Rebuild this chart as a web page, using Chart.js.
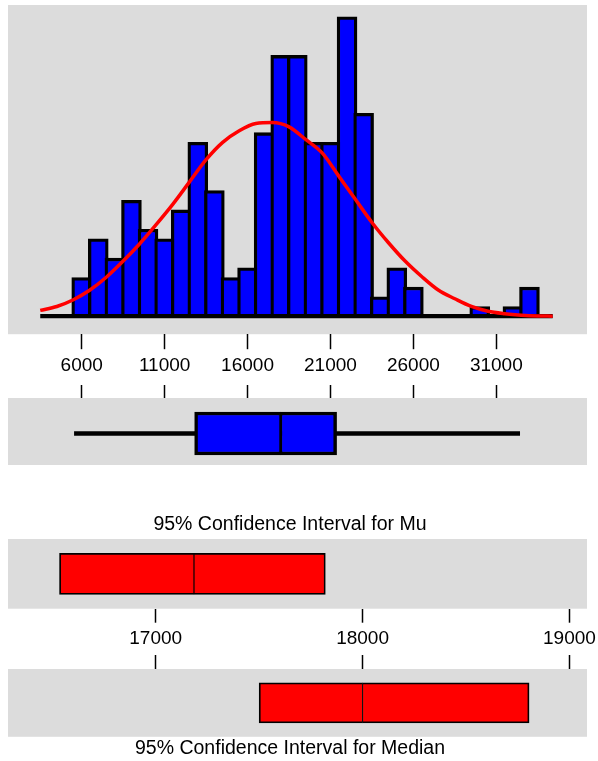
<!DOCTYPE html>
<html>
<head>
<meta charset="utf-8">
<script src="https://cdn.jsdelivr.net/npm/chart.js@4.4.1/dist/chart.umd.min.js"></script>
<style>
html,body{margin:0;padding:0;background:#fff;width:598px;height:761px;overflow:hidden;position:relative}
canvas{position:absolute;left:0}
</style>
</head>
<body>
<canvas id="hist" width="598" height="385" style="top:0px;width:598px;height:385px"></canvas>
<canvas id="box" width="598" height="80" style="top:385px;width:598px;height:80px"></canvas>
<canvas id="ciMu" width="630" height="156" style="top:500px;left:-16px;width:630px;height:156px"></canvas>
<canvas id="ciMed" width="630" height="106" style="top:655px;left:-16px;width:630px;height:106px"></canvas>
<script>
// ---------- data ----------
const binCenters = [6000,7000,8000,9000,10000,11000,12000,13000,14000,15000,16000,17000,18000,19000,20000,21000,22000,23000,24000,25000,26000,27000,28000,29000,30000,31000,32000,33000];
const binCounts  = [4,8,6,12,9,8,11,18,13,4,5,19,27,27,18,18,31,21,2,5,3,0,0,0,1,0,1,3];
const curveX = [3500,4500,5500,6500,7500,8500,9500,10500,11500,12500,13500,14500,15500,16500,17500,18500,19500,20500,21500,22500,23500,24500,25500,26500,27500,28500,29500,30500,31500,32500,33500,34400];
const curveY = [0.6,1.0,1.7,2.7,4.05,5.7,7.5,9.5,11.6,13.9,16.2,18.0,19.2,19.95,20.05,19.6,18.3,16.9,14.5,12.1,9.7,7.6,5.7,4.1,2.7,1.8,1.0,0.5,0.25,0.1,0.02,0];
const histTicks = [6000,11000,16000,21000,26000,31000];
const boxSummary = [5560,12810,18000,21370,32410]; // min, Q1, median, Q3, max
const muInterval = [16535,17185,17820];            // low, mean, high
const medianInterval = [17500,18000,18805];        // low, median, high
const ciTicks = [17000,18000,19000];
const muTitle = '95% Confidence Interval for Mu';
const medianTitle = '95% Confidence Interval for Median';

// ---------- shared styling ----------
const FONT = "'Liberation Sans', Arial, Helvetica, sans-serif";
const GRAY = '#dcdcdc';
const panelBg = {
  id: 'panelBg',
  beforeDraw(chart) {
    const {ctx, chartArea: a} = chart;
    ctx.save();
    ctx.fillStyle = GRAY;
    ctx.fillRect(a.left, a.top, a.right - a.left, a.bottom - a.top);
    ctx.restore();
  }
};
const common = {
  responsive: false,
  animation: false,
  events: [],
};
function xAxis(min, max, tickVals, position, showLabels, tickLength, padding) {
  return {
    type: 'linear', position, min, max, offset: false,
    afterBuildTicks: s => { s.ticks = tickVals.map(v => ({value: v})); },
    ticks: {display: showLabels, callback: v => String(v), color: '#000',
            font: {family: FONT, size: 19}, padding: padding, maxRotation: 0, autoSkip: false},
    grid: {display: true, drawOnChartArea: false, drawTicks: true, offset: false,
           tickLength, tickColor: '#000', tickWidth: 1.5, color: '#000'},
    border: {display: false},
    stacked: false
  };
}
// invisible spacer y-axis (15px wide) for the interval panels
function spacerY(min, max) {
  return {
    type: 'linear', position: 'left', display: true, min, max, offset: false,
    ticks: {display: false}, grid: {display: false}, border: {display: false},
    afterFit: s => { s.width = 15; }
  };
}

// ---------- histogram ----------
new Chart(document.getElementById('hist'), {
  type: 'bar',
  data: {
    datasets: [
      {type: 'line', data: curveX.map((x, i) => ({x, y: curveY[i]})), borderColor: '#ff0000',
       borderWidth: 3.5, pointRadius: 0, cubicInterpolationMode: 'monotone', order: 0},
      {type: 'line', data: [{x: curveX[0], y: 0}, {x: curveX[curveX.length - 1], y: 0}],
       borderColor: '#000', borderWidth: 4.3, pointRadius: 0, order: 1},
      {type: 'bar', data: binCenters.map((x, i) => ({x, y: binCounts[i]})),
       backgroundColor: '#0000ff', borderColor: '#000', borderWidth: 3.3, barThickness: 19.9, order: 2}
    ]
  },
  options: Object.assign({}, common, {
    layout: {padding: {left: 8, right: 11, top: 5, bottom: 3}},
    plugins: {legend: {display: false}, tooltip: {enabled: false}, title: {display: false}},
    scales: {
      x: xAxis(1556, 36469, histTicks, 'bottom', true, 15, 5),
      y: {type: 'linear', display: false, min: -1.87, max: 32.22, offset: false}
    }
  }),
  plugins: [panelBg]
});

// ---------- box plot ----------
function boxDatasets(lo, mid, hi, fill, outer, inner, thickness) {
  return [
    {data: [{x: [lo, mid], y: 0}], backgroundColor: fill, borderColor: '#000', borderSkipped: false,
     borderWidth: {top: outer, bottom: outer, left: outer, right: inner}, barThickness: thickness, stack: 's', order: 1},
    {data: [{x: [mid, hi], y: 0}], backgroundColor: fill, borderColor: '#000', borderSkipped: false,
     borderWidth: {top: outer, bottom: outer, left: inner, right: outer}, barThickness: thickness, stack: 's', order: 1}
  ];
}
new Chart(document.getElementById('box'), {
  type: 'bar',
  data: {
    datasets: [
      {data: [{x: [boxSummary[0], boxSummary[4]], y: 0}], backgroundColor: '#000', borderWidth: 0,
       barThickness: 4, stack: 's', order: 2},
      ...boxDatasets(boxSummary[1], boxSummary[2], boxSummary[3], '#0000ff', 3.5, 1.75, 43)
    ]
  },
  options: Object.assign({}, common, {
    indexAxis: 'y',
    layout: {padding: {left: 8, right: 11, top: 0, bottom: 0}},
    plugins: {legend: {display: false}, tooltip: {enabled: false}},
    scales: {
      x: xAxis(1556, 36469, histTicks, 'top', false, 13, 0),
      y: {type: 'linear', display: false, min: -0.94, max: 1.06, offset: false}
    }
  }),
  plugins: [panelBg]
});

// ---------- CI for Mu ----------
new Chart(document.getElementById('ciMu'), {
  type: 'bar',
  data: {datasets: boxDatasets(muInterval[0], muInterval[1], muInterval[2], '#ff0000', 1.8, 0.9, 41)},
  options: Object.assign({}, common, {
    indexAxis: 'y',
    layout: {padding: {left: 9, right: 27, top: 0, bottom: 0.5}},
    plugins: {
      legend: {display: false}, tooltip: {enabled: false},
      title: {display: true, text: muTitle, color: '#000', font: {family: FONT, size: 19.5, weight: 'normal'},
              padding: {top: 13.3, bottom: 2.3}}
    },
    scales: {
      x: xAxis(16286, 19085, ciTicks, 'bottom', true, 14, 5),
      y: spacerY(-1, 1)
    }
  }),
  plugins: [panelBg]
});

// ---------- CI for Median ----------
new Chart(document.getElementById('ciMed'), {
  type: 'bar',
  data: {datasets: boxDatasets(medianInterval[0], medianInterval[1], medianInterval[2], '#ff0000', 1.8, 0.9, 40)},
  options: Object.assign({}, common, {
    indexAxis: 'y',
    layout: {padding: {left: 9, right: 27, top: 0, bottom: 0.8}},
    plugins: {
      legend: {display: false}, tooltip: {enabled: false},
      title: {display: true, position: 'bottom', text: medianTitle, color: '#000',
              font: {family: FONT, size: 19.5, weight: 'normal'}, padding: {top: 0, bottom: 0}}
    },
    scales: {
      x: xAxis(16286, 19085, ciTicks, 'top', false, 14, 0),
      y: spacerY(-1, 1)
    }
  }),
  plugins: [panelBg]
});
</script>
</body>
</html>
